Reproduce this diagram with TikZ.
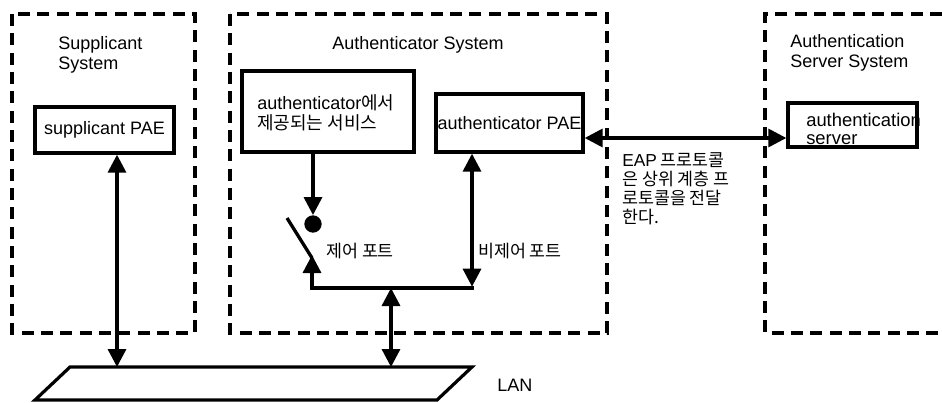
\documentclass[tikz,border=0pt]{standalone}
\usepackage{fontspec}
\setmainfont{Liberation Sans}
\newfontfamily\kr{Noto Sans CJK KR}
\usetikzlibrary{arrows.meta,fit}
\begin{document}
\begin{tikzpicture}[x=0.75pt,y=-0.75pt,
  sysbox/.style={line width=2.3pt, dash pattern=on 9pt off 5.5pt},
  pbox/.style={draw, line width=2.5pt, inner sep=0pt},
  tip/.tip={Triangle[length=13.5pt,width=13.5pt]},
  arr/.style={line width=2.5pt, -tip},
  darr/.style={line width=2.5pt, tip-tip},
  txt/.style={font=\fontsize{13.5}{15}\selectfont, inner sep=0pt, align=left},
  krtxt/.style={txt, font=\kr\fontsize{13}{14.3}\selectfont},
  ln/.style={line width=2.5pt}]
\useasboundingbox (0,0) rectangle (942,403);
% system boxes
\draw[sysbox] (12,14) rectangle (195,333);
\draw[sysbox] (230,14) rectangle (607,333);
\draw[sysbox] (942,14) -- (765,14) -- (765,333) -- (942,333);
% titles
\node[txt, anchor=north west] (tsup) at (58,36) {Supplicant\\System};
\node[txt, anchor=north] (taut) at (418,36) {Authenticator System};
\node[txt, anchor=north west] (tsrv) at (790,34) {Authentication\\Server System};
% boxes
\node[pbox, fit={(35,107)(174,153)}] (sp) {};
\node[txt] (sptxt) at (sp.center) {supplicant PAE};
\node[pbox, fit={(242,71)(414,152)}] (svc) {};
\node[txt, anchor=west] (svctxt) at (257,113) {authenticator{\kr 에서}\\{\kr 제공되는 서비스}};
\node[pbox, fit={(436,94)(583,152)}] (apae) {};
\node[txt] (apaetxt) at (apae.center) {authenticator PAE};
\node[pbox, fit={(788,103)(917,147)}] (asrv) {};
\node[txt, anchor=west, font=\fontsize{13.8}{13.5}\selectfont] (asrvtxt) at (806,129) {authentication\\server};
% EAP text
\node[krtxt, anchor=north west] (eap) at (622,152)
  {{\rmfamily EAP} 프로토콜\\은 상위 계층 프\\로토콜을 전달\\한다.};
% LAN
\coordinate (lanA) at (70,367);
\coordinate (lanB) at (472,367);
\coordinate (lanC) at (437,400);
\coordinate (lanD) at (35,400);
\draw[line width=2.4pt, line join=miter] (lanA) -- (lanB) -- (lanC) -- (lanD) -- cycle;
\node[txt, anchor=west] (lan) at (497,385) {LAN};
% connectors
\coordinate (lanS) at (117,367);
\coordinate (lanM) at (391,367);
\draw[darr] (sp.south -| lanS) -- (lanS);
\draw[darr] (asrv.west |- 0,138) -- (apae.east |- 0,138);
% service to dot
\node[circle, fill, inner sep=0pt, minimum size=13] (dot) at (313,224) {};
\draw[arr] (svc.south -| dot) -- (dot.north);
% port structure
\coordinate (jL) at (312,288);
\coordinate (jR) at (472,288);
\coordinate (jM) at (391,288);
\coordinate (swtop) at (287,218);
\coordinate (swbot) at (312,258);
\draw[ln] (swtop) -- (swbot);
\draw[arr] (jL) -- (312,255);
\draw[ln, line cap=rect] (jL) -- (jR);
\draw[darr] (apae.south -| jR) -- ([yshift=1pt]jR);
\draw[darr] (jM) -- (lanM);
\node[krtxt, anchor=west] (ctl) at (326,251) {제어 포트};
\node[krtxt, anchor=west] (unc) at (478,251) {비제어 포트};
\end{tikzpicture}
\end{document}
